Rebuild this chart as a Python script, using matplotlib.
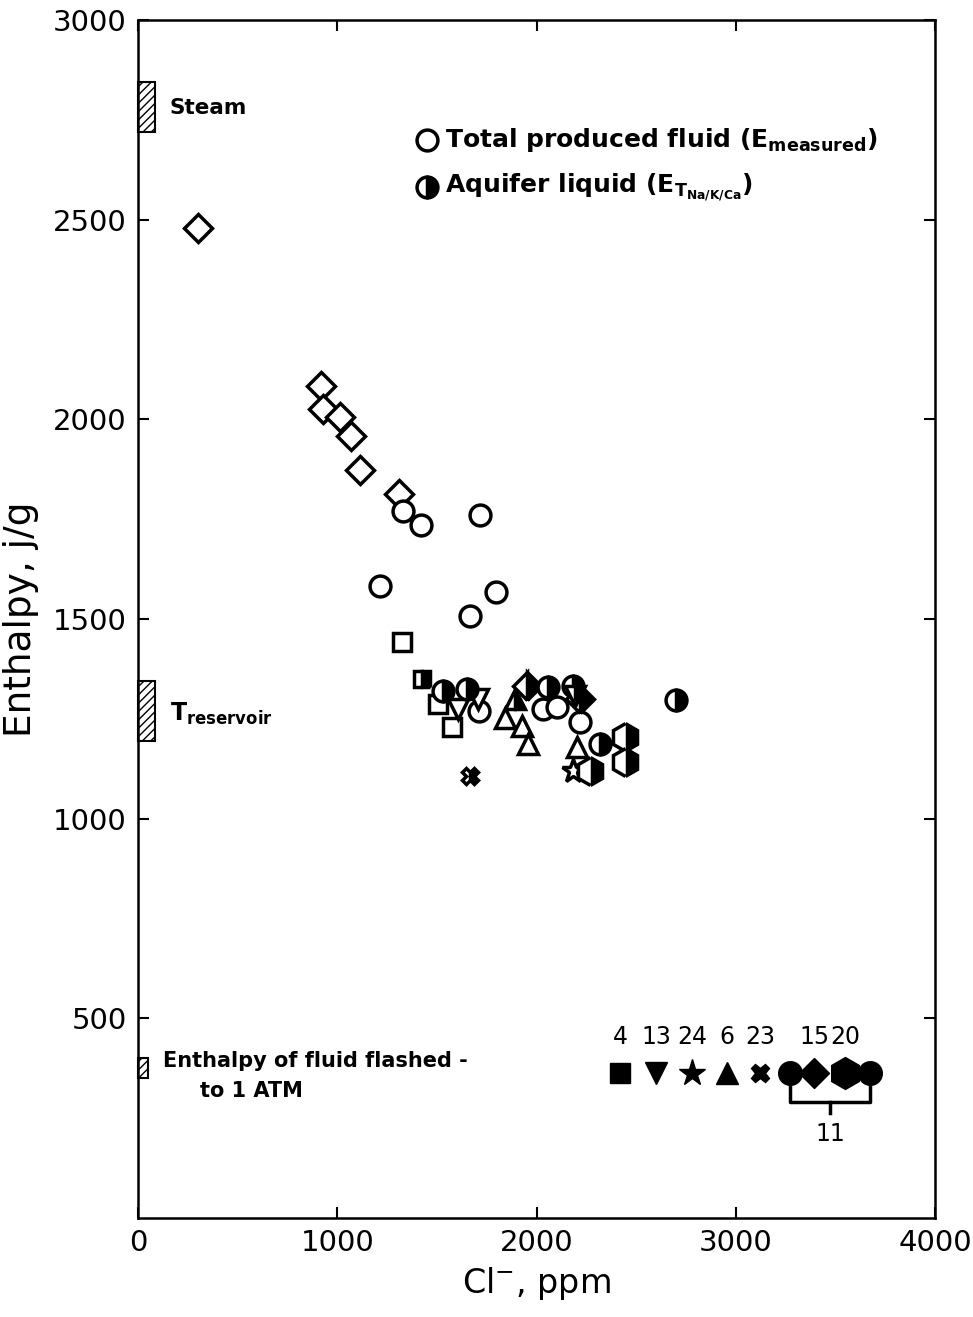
import matplotlib
matplotlib.use("Agg")
import matplotlib.pyplot as plt
from matplotlib.patches import Rectangle

plt.rcParams['font.family'] = ['DejaVu Sans']

# ---- data (Cl ppm, enthalpy J/g) ----
# well 15 (diamond)
d_open_x = [301, 918, 928, 1014, 1069, 1114, 1310]
d_open_y = [2480, 2083, 2025, 2005, 1958, 1873, 1813]
d_half_x = [1952, 2218]
d_half_y = [1333, 1300]
# well 11 (circle)
c_open_x = [1330, 1420, 1716, 1215, 1797, 1666, 1711, 2033, 2103, 2218]
c_open_y = [1770, 1735, 1760, 1583, 1568, 1508, 1270, 1275, 1280, 1243]
c_half_x = [2700, 2319, 1531, 1651, 2058, 2183]
c_half_y = [1298, 1188, 1320, 1325, 1330, 1333]
# well 4 (square)
s_open_x = [1325, 1506, 1576]
s_open_y = [1443, 1288, 1230]
s_half_x = [1425]
s_half_y = [1350]
# well 6 (triangle)
t_open_x = [1842, 1927, 1957, 2203]
t_open_y = [1253, 1233, 1188, 1180]
t_half_x = [1892]
t_half_y = [1300]
# well 13 (inverted triangle)
v_open_x = [1706, 1606]
v_open_y = [1300, 1275]
v_half_x = [2193]
v_half_y = [1308]
# well 24 (star)
st_open_x = [2183]
st_open_y = [1120]
# well 23 (cross)
x_half_x = [1666]
x_half_y = [1108]
# well 20 (hexagon)
h_half_x = [2268, 2444, 2444]
h_half_y = [1120, 1205, 1143]

# key at bottom right
key_labels = ['4', '13', '24', '6', '23', '', '15', '20', '']
key_x = [2419, 2600, 2780, 2956, 3122, 3272, 3393, 3548, 3674]
key_markers = ['s', 'v', '*', '^', 'X', 'o', 'D', 'h', 'o']
key_y = 362

fig = plt.figure(figsize=(9.73, 13.17), dpi=100)
ax = fig.add_axes([0.1418, 0.0752, 0.8192, 0.9096])
ax.set_xlim(0, 4000)
ax.set_ylim(0, 3000)

lw = 2.5
def openpts(x, y, m, ms):
    ax.plot(x, y, ls='none', marker=m, ms=ms, mfc='white', mec='black', mew=lw, zorder=3)

def halfpts(x, y, m, ms):
    ax.plot(x, y, ls='none', marker=m, ms=ms, mfc='black', mfcalt='white',
            fillstyle='right', mec='black', mew=lw, zorder=4)

openpts(d_open_x, d_open_y, 'D', 14)
halfpts(d_half_x, d_half_y, 'D', 14)
openpts(c_open_x, c_open_y, 'o', 15)
halfpts(c_half_x, c_half_y, 'o', 15)
openpts(s_open_x, s_open_y, 's', 13)
halfpts(s_half_x, s_half_y, 's', 12)
openpts(t_open_x, t_open_y, '^', 15)
halfpts(t_half_x, t_half_y, '^', 15)
openpts(v_open_x, v_open_y, 'v', 15)
halfpts(v_half_x, v_half_y, 'v', 15)
openpts(st_open_x, st_open_y, '*', 17)
halfpts(x_half_x, x_half_y, 'X', 11)
halfpts(h_half_x, h_half_y, 'h', 20)

# key markers
sizes = {'s': 14, 'v': 16, '*': 20, '^': 16, 'X': 13, 'o': 17, 'D': 15, 'h': 23}
for kx, km, kl in zip(key_x, key_markers, key_labels):
    ax.plot([kx], [key_y], ls='none', marker=km, ms=sizes[km], color='black', zorder=3)
    if kl:
        ax.text(kx, key_y + 60, kl, ha='center', va='bottom', fontsize=17)
# bracket for well 11
bx0, bx1 = key_x[5], key_x[8]
ax.plot([bx0, bx0, bx1, bx1], [key_y, 290, 290, key_y], color='black', lw=2.5, zorder=2)
bmid = (bx0 + bx1) / 2
ax.plot([bmid, bmid], [290, 262], color='black', lw=2.5)
ax.text(bmid, 240, '11', ha='center', va='top', fontsize=17)

# hatched bars on y-axis
for (y0, y1, w) in [(2720, 2845, 85), (1195, 1345, 85), (350, 400, 50)]:
    ax.add_patch(Rectangle((0, y0), w, y1 - y0, facecolor='white', edgecolor='black',
                           hatch='////', lw=1.5, clip_on=False, zorder=2))

ax.text(160, 2780, 'Steam', fontsize=15.5, fontweight='bold', va='center', ha='left')
ax.text(160, 1262, r'T$_{\mathregular{reservoir}}$', fontsize=17, fontweight='bold',
        va='center', ha='left')
ax.text(125, 392, 'Enthalpy of fluid flashed -', fontsize=15, fontweight='bold',
        va='center', ha='left')
ax.text(310, 318, 'to 1 ATM', fontsize=15, fontweight='bold', va='center', ha='left')

# legend text
ax.plot([1450], [2700], marker='o', ms=15, mfc='white', mec='black', mew=lw, ls='none')
ax.plot([1450], [2582], marker='o', ms=15, mfc='black', mfcalt='white', fillstyle='right',
        mec='black', mew=lw, ls='none')
ax.text(1540, 2700, r'Total produced fluid (E$_{\mathregular{measured}}$)', fontsize=18,
        fontweight='bold', va='center')
ax.text(1540, 2582, r'Aquifer liquid (E$_{\mathregular{T_{Na/K/Ca}}}$)', fontsize=18,
        fontweight='bold', va='center')

ax.set_xticks([0, 1000, 2000, 3000, 4000])
ax.set_yticks([500, 1000, 1500, 2000, 2500, 3000])
ax.tick_params(direction='in', length=8, width=1.5, labelsize=21, top=True, right=True, pad=8)
for s in ax.spines.values():
    s.set_linewidth(1.8)
ax.set_ylabel('Enthalpy, j/g', fontsize=27, labelpad=10)
ax.set_xlabel(r'Cl$^{-}$, ppm', fontsize=24, labelpad=6)

fig.savefig('out.png', dpi=100)
